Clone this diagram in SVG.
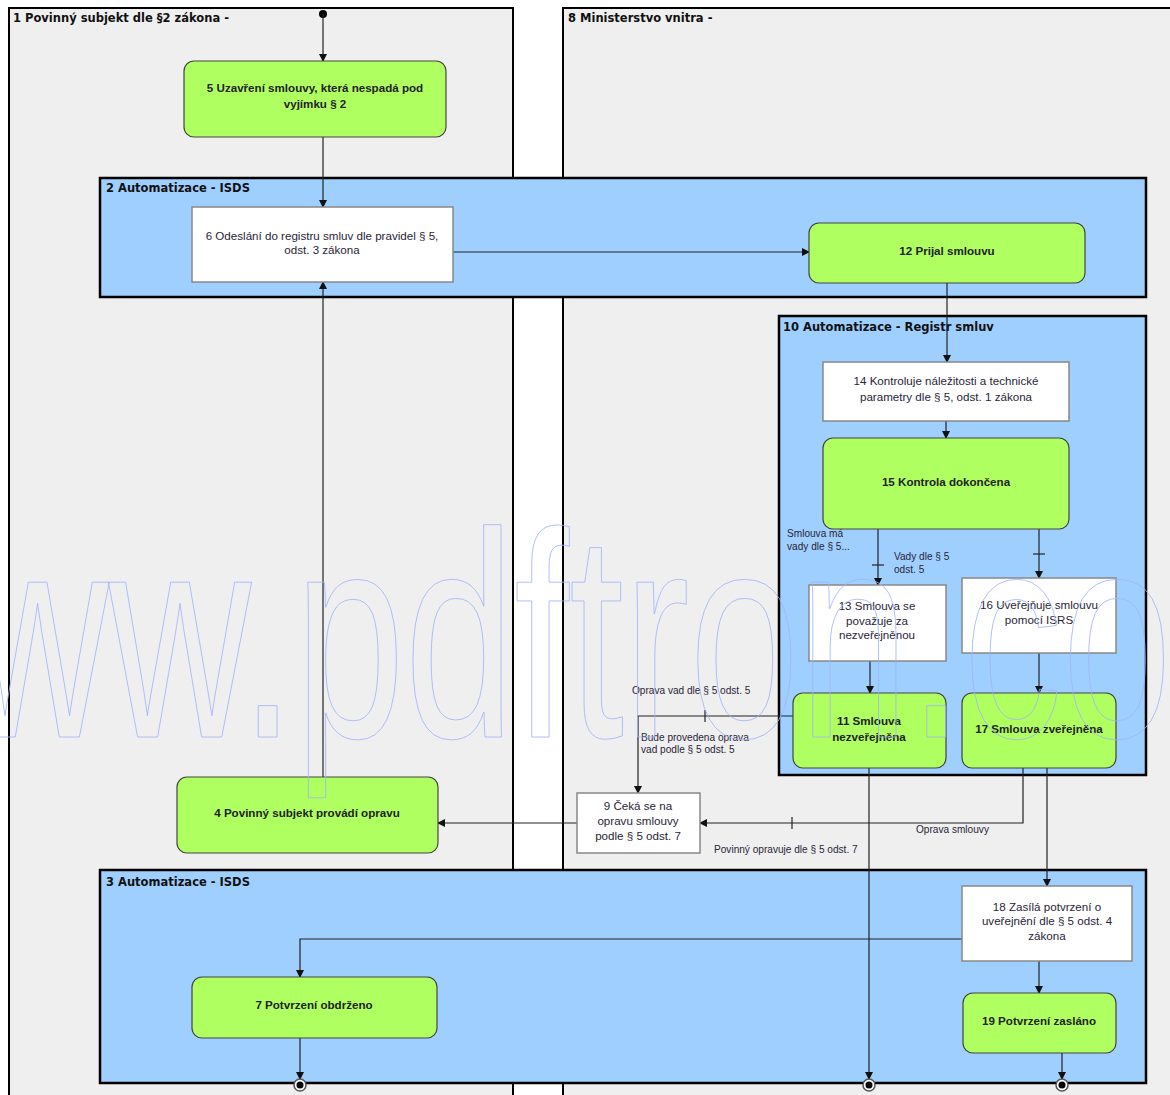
<svg xmlns="http://www.w3.org/2000/svg" width="1170" height="1095" viewBox="0 0 1170 1095">
<style>
.lane{fill:#efefef;stroke:#000;stroke-width:2}
.band{fill:#9fcfff;stroke:#000;stroke-width:2.5}
.title{font-family:"DejaVu Sans","Liberation Sans",sans-serif;font-size:11.5px;font-weight:bold;fill:#111}
.g{fill:#b0ff60;stroke:#444;stroke-width:1.2}
.w{fill:#fff;stroke:#888;stroke-width:1.5}
.tb{font-family:"Liberation Sans","DejaVu Sans",sans-serif;font-size:11.6px;font-weight:bold;fill:#222;text-anchor:middle}
.tn{font-family:"Liberation Sans","DejaVu Sans",sans-serif;font-size:11.6px;fill:#2a2438;text-anchor:middle}
.lb{font-family:"Liberation Sans","DejaVu Sans",sans-serif;font-size:10.1px;fill:#2a2438}
.c{fill:none;stroke:#222;stroke-width:1.2}
.tick{stroke:#222;stroke-width:1.2}
.wm{font-family:"Liberation Sans",Arial,sans-serif;font-size:293px;fill:none;stroke:#a0b4fa;stroke-width:1}
</style>
<defs>
<marker id="ah" markerWidth="8" markerHeight="8" refX="7" refY="4" orient="auto" markerUnits="userSpaceOnUse">
<path d="M0,0 L8,4 L0,8 z" fill="#111"/>
</marker>
</defs>
<rect width="1170" height="1095" fill="#fff"/>
<g id="lane1"><rect class="lane" x="9" y="8" width="504" height="1100"/><text class="title" x="13" y="22">1 Povinný subjekt dle §2 zákona -</text></g>
<g id="lane8"><rect class="lane" x="563" y="8" width="620" height="1100"/><text class="title" x="568" y="22">8 Ministerstvo vnitra -</text></g>
<g id="band2"><rect class="band" x="100" y="178" width="1046" height="119"/><text class="title" x="106" y="192">2 Automatizace - ISDS</text></g>
<g id="band10"><rect class="band" x="779" y="316" width="367" height="459"/><text class="title" x="783" y="331">10 Automatizace - Registr smluv</text></g>
<g id="band3"><rect class="band" x="100" y="870" width="1046" height="213"/><text class="title" x="106" y="886">3 Automatizace - ISDS</text></g>

<g id="connectors">
<circle cx="323" cy="14" r="4" fill="#000"/>
<path class="c" d="M323,14 V61" marker-end="url(#ah)"/>
<path class="c" d="M323,137 V207" marker-end="url(#ah)"/>
<path class="c" d="M453,252 H809" marker-end="url(#ah)"/>
<path class="c" d="M947,283 V362" marker-end="url(#ah)"/>
<path class="c" d="M946,421 V438" marker-end="url(#ah)"/>
<path class="c" d="M878,529 V585" marker-end="url(#ah)"/>
<line class="tick" x1="872" y1="565" x2="884" y2="565"/>
<path class="c" d="M1039,529 V578" marker-end="url(#ah)"/>
<line class="tick" x1="1033" y1="554" x2="1045" y2="554"/>
<path class="c" d="M870,661 V693" marker-end="url(#ah)"/>
<path class="c" d="M1039,653 V693" marker-end="url(#ah)"/>
<path class="c" d="M793,716 H638 V793" marker-end="url(#ah)"/>
<line class="tick" x1="705" y1="710" x2="705" y2="722"/>
<path class="c" d="M1023,768 V823 H700" marker-end="url(#ah)"/>
<line class="tick" x1="792" y1="817" x2="792" y2="829"/>
<path class="c" d="M577,823 H438" marker-end="url(#ah)"/>
<path class="c" d="M323,777 V282" marker-end="url(#ah)"/>
<path class="c" d="M1047,768 V886" marker-end="url(#ah)"/>
<path class="c" d="M1039,961 V993" marker-end="url(#ah)"/>
<path class="c" d="M963,939 H300 V977" marker-end="url(#ah)"/>
<path class="c" d="M300,1038 V1079" marker-end="url(#ah)"/>
<path class="c" d="M869,768 V1079" marker-end="url(#ah)"/>
<path class="c" d="M1062,1053 V1079" marker-end="url(#ah)"/>
<text class="lb" x="787" y="537">Smlouva má</text>
<text class="lb" x="787" y="550">vady dle § 5...</text>
<text class="lb" x="894" y="560">Vady dle § 5</text>
<text class="lb" x="894" y="573">odst. 5</text>
<text class="lb" x="632" y="694">Oprava vad dle § 5 odst. 5</text>
<text class="lb" x="641" y="741">Bude provedena oprava</text>
<text class="lb" x="641" y="753">vad podle § 5 odst. 5</text>
<text class="lb" x="916" y="833">Oprava smlouvy</text>
<text class="lb" x="714" y="853">Povinný opravuje dle § 5 odst. 7</text>
</g>

<g id="n5"><rect class="g" x="184" y="61" width="262" height="76" rx="10"/><text class="tb" x="315" y="92">5 Uzavření smlouvy, která nespadá pod</text><text class="tb" x="315" y="108">vyjímku § 2</text></g>
<g id="n6"><rect class="w" x="192" y="207" width="261" height="75"/><text class="tn" x="322" y="240">6 Odeslání do registru smluv dle pravidel § 5,</text><text class="tn" x="322" y="254">odst. 3 zákona</text></g>
<g id="n12"><rect class="g" x="809" y="223" width="276" height="60" rx="10"/><text class="tb" x="947" y="255">12 Prijal smlouvu</text></g>
<g id="n14"><rect class="w" x="823" y="362" width="246" height="59"/><text class="tn" x="946" y="385">14 Kontroluje náležitosti a technické</text><text class="tn" x="946" y="401">parametry dle § 5, odst. 1 zákona</text></g>
<g id="n15"><rect class="g" x="823" y="438" width="246" height="91" rx="10"/><text class="tb" x="946" y="486">15 Kontrola dokončena</text></g>
<g id="n13"><rect class="w" x="809" y="585" width="137" height="76"/><text class="tn" x="877" y="610">13 Smlouva se</text><text class="tn" x="877" y="625">považuje za</text><text class="tn" x="877" y="639">nezveřejněnou</text></g>
<g id="n16"><rect class="w" x="962" y="578" width="154" height="75"/><text class="tn" x="1039" y="609">16 Uveřejňuje smlouvu</text><text class="tn" x="1039" y="624">pomocí ISRS</text></g>
<g id="n11"><rect class="g" x="793" y="693" width="153" height="75" rx="10"/><text class="tb" x="869" y="725">11 Smlouva</text><text class="tb" x="869" y="741">nezveřejněna</text></g>
<g id="n17"><rect class="g" x="962" y="693" width="154" height="75" rx="10"/><text class="tb" x="1039" y="733">17 Smlouva zveřejněna</text></g>
<g id="n9"><rect class="w" x="577" y="793" width="123" height="60"/><text class="tn" x="638" y="810">9 Čeká se na</text><text class="tn" x="638" y="825">opravu smlouvy</text><text class="tn" x="638" y="840">podle § 5 odst. 7</text></g>
<g id="n4"><rect class="g" x="177" y="777" width="261" height="76" rx="10"/><text class="tb" x="307" y="817">4 Povinný subjekt provádí opravu</text></g>
<g id="n18"><rect class="w" x="962" y="886" width="170" height="75"/><text class="tn" x="1047" y="911">18 Zasílá potvrzení o</text><text class="tn" x="1047" y="925">uveřejnění dle § 5 odst. 4</text><text class="tn" x="1047" y="940">zákona</text></g>
<g id="n7"><rect class="g" x="192" y="977" width="245" height="61" rx="10"/><text class="tb" x="314" y="1009">7 Potvrzení obdrženo</text></g>
<g id="n19"><rect class="g" x="963" y="993" width="153" height="60" rx="10"/><text class="tb" x="1039" y="1025">19 Potvrzení zasláno</text></g>
<g id="end1"><circle cx="300" cy="1085" r="6" fill="#fff" stroke="#555" stroke-width="1.5"/><circle cx="300" cy="1085" r="3.5" fill="#000"/></g>
<g id="end2"><circle cx="869" cy="1085" r="6" fill="#fff" stroke="#555" stroke-width="1.5"/><circle cx="869" cy="1085" r="3.5" fill="#000"/></g>
<g id="end3"><circle cx="1062" cy="1085" r="6" fill="#fff" stroke="#555" stroke-width="1.5"/><circle cx="1062" cy="1085" r="3.5" fill="#000"/></g>

<text class="wm" x="-176" y="737" textLength="1512" lengthAdjust="spacingAndGlyphs">www.pdftron.com</text>
</svg>
